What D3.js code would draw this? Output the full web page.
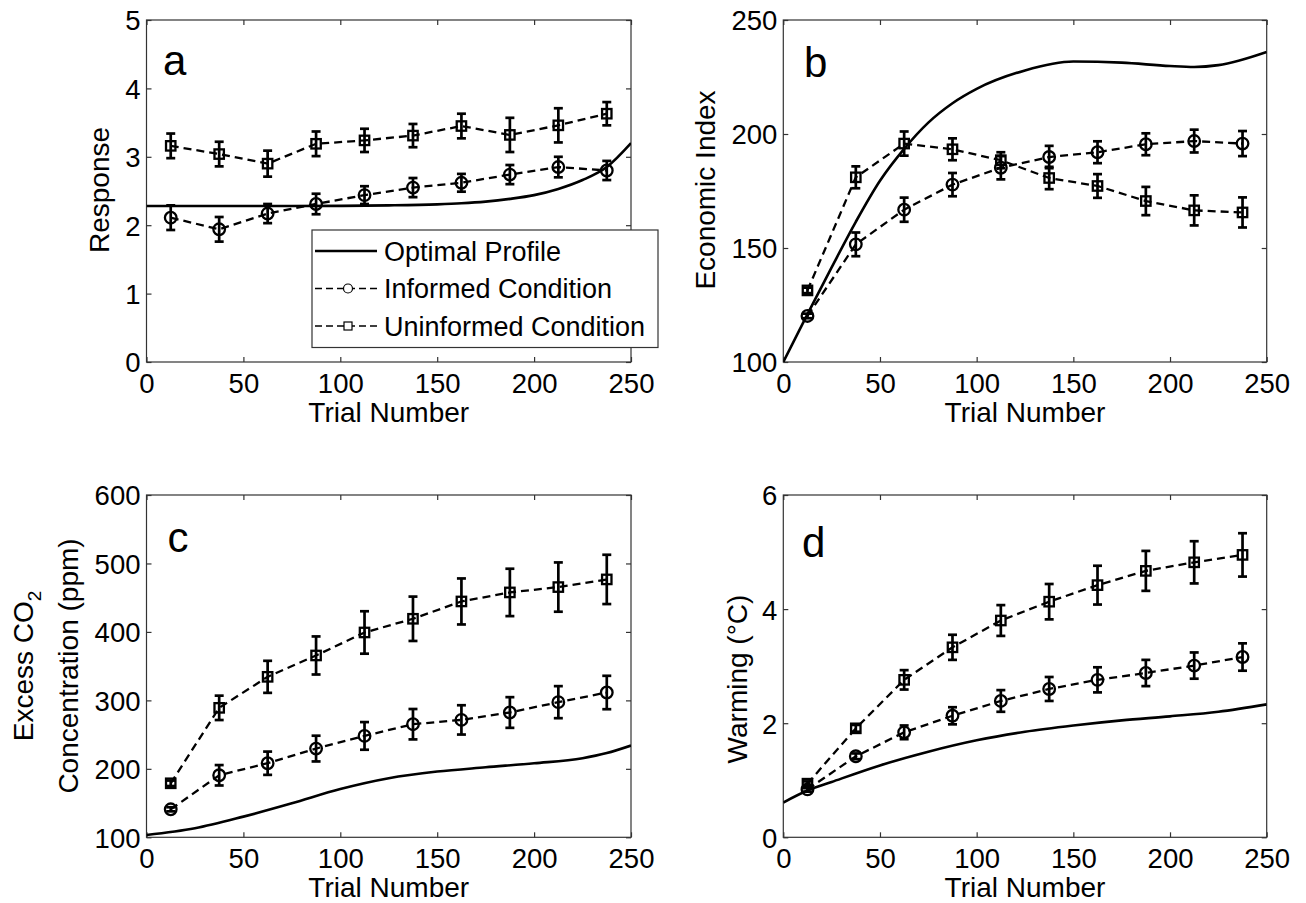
<!DOCTYPE html>
<html>
<head>
<meta charset="utf-8">
<script src="https://cdn.jsdelivr.net/npm/d3@7/dist/d3.min.js"></script>
<style>
  html, body { margin: 0; padding: 0; background: #fff; }
  svg { display: block; font-family: "Liberation Sans", Arial, Helvetica, sans-serif; }
</style>
</head>
<body>
<svg id="chart" width="1306" height="903"></svg>
<script>
// ---------------- DATA ----------------
const trials = [12.5, 37.5, 62.5, 87.5, 112.5, 137.5, 162.5, 187.5, 212.5, 237.5];
const xTicks = [0, 50, 100, 150, 200, 250];

// Panel a: Response
const respInformed = [2.11, 1.94, 2.17, 2.31, 2.44, 2.55, 2.62, 2.74, 2.85, 2.80];
const respInformedErr = [0.18, 0.18, 0.14, 0.15, 0.13, 0.14, 0.13, 0.14, 0.15, 0.14];
const respUninformed = [3.16, 3.04, 2.90, 3.19, 3.24, 3.31, 3.45, 3.32, 3.46, 3.63];
const respUninformedErr = [0.18, 0.18, 0.19, 0.18, 0.17, 0.17, 0.18, 0.25, 0.25, 0.17];
const respOptX = [0, 25, 50, 75, 100, 125, 150, 162.5, 175, 187.5, 200, 212.5, 225, 237.5, 250];
const respOptimal = [2.28, 2.28, 2.28, 2.28, 2.283, 2.29, 2.305, 2.32, 2.345, 2.385, 2.44, 2.53, 2.66, 2.85, 3.20];
const respTicks = [0, 1, 2, 3, 4, 5];

// Panel b: Economic Index
const econInformed = [120.2, 151.6, 166.8, 177.8, 185.2, 189.9, 192.0, 195.5, 196.9, 195.8];
const econInformedErr = [1.0, 5.2, 5.3, 5.1, 5.1, 4.9, 4.8, 4.8, 5.0, 5.5];
const econUninformed = [131.4, 181.0, 195.8, 193.3, 188.5, 180.7, 177.2, 170.6, 166.5, 165.6];
const econUninformedErr = [1.2, 4.8, 5.3, 4.8, 3.5, 4.9, 5.2, 6.2, 6.6, 6.6];
const econOptX = [0, 12.5, 25, 37.5, 50, 62.5, 75, 87.5, 100, 125, 150, 175, 200, 212.5, 225, 250];
const econOptimal = [100, 121, 141.5, 161.5, 179.5, 193.5, 205, 213.5, 219.8, 227.9, 231.8, 231.3, 229.8, 229.4, 230.2, 236.0];
const econTicks = [100, 150, 200, 250];

// Panel c: Excess CO2 concentration (ppm)
const co2Informed = [140.9, 190.6, 208.2, 229.6, 248.1, 265.2, 271.5, 282.3, 297.4, 311.5];
const co2InformedErr = [3, 14.9, 17, 18.8, 20.2, 22.2, 21.4, 22.4, 23.4, 24.4];
const co2Uninformed = [178.9, 289.1, 334.4, 365.6, 399.2, 419.2, 444.5, 457.7, 465.5, 476.7];
const co2UninformedErr = [4, 17.8, 23.4, 27.8, 31, 32.4, 33.6, 34.6, 36, 36];
const co2OptX = [0, 25, 50, 75, 100, 125, 150, 175, 200, 225, 237.5, 250];
const co2Optimal = [103.4, 113.2, 130.2, 149.7, 170.5, 186.3, 196, 202.3, 208.2, 215.5, 223, 234];
const co2Ticks = [100, 200, 300, 400, 500, 600];

// Panel d: Warming (°C)
const warmInformed = [0.84, 1.42, 1.84, 2.13, 2.39, 2.60, 2.76, 2.88, 3.01, 3.16];
const warmInformedErr = [0.04, 0.05, 0.12, 0.15, 0.19, 0.21, 0.22, 0.23, 0.23, 0.24];
const warmUninformed = [0.94, 1.91, 2.76, 3.33, 3.80, 4.13, 4.42, 4.67, 4.82, 4.95];
const warmUninformedErr = [0.04, 0.06, 0.17, 0.22, 0.27, 0.31, 0.34, 0.35, 0.37, 0.38];
const warmOptX = [0, 12.5, 25, 50, 75, 100, 125, 150, 175, 200, 225, 250];
const warmOptimal = [0.61, 0.82, 0.97, 1.26, 1.50, 1.70, 1.85, 1.96, 2.05, 2.12, 2.20, 2.33];
const warmTicks = [0, 2, 4, 6];

const legendLabels = ["Optimal Profile", "Informed Condition", "Uninformed Condition"];

// ---------------- LAYOUT ----------------
const svg = d3.select("#chart");
const FONT_FAMILY = '"Liberation Sans", Arial, Helvetica, sans-serif';
const FONT = 27.5;
const LABEL_FONT = 28;

const panels = [
  { id: "a", box: [146.5, 631, 20, 362], yDomain: [0, 5], yTicks: respTicks,
    inf: respInformed, infErr: respInformedErr, uni: respUninformed, uniErr: respUninformedErr,
    optX: respOptX, opt: respOptimal, letterPos: [163, 75],
    ylabel: { lines: [["Response"]], x: [109], cy: 190 }, legend: true },
  { id: "b", box: [783.3, 1266.7, 20, 362], yDomain: [100, 250], yTicks: econTicks,
    inf: econInformed, infErr: econInformedErr, uni: econUninformed, uniErr: econUninformedErr,
    optX: econOptX, opt: econOptimal, letterPos: [804, 77],
    ylabel: { lines: [["Economic Index"]], x: [715], cy: 190 } },
  { id: "c", box: [146.5, 631, 495, 837.3], yDomain: [100, 600], yTicks: co2Ticks,
    inf: co2Informed, infErr: co2InformedErr, uni: co2Uninformed, uniErr: co2UninformedErr,
    optX: co2OptX, opt: co2Optimal, letterPos: [167.5, 552],
    ylabel: { lines: [["Excess CO", "2"], ["Concentration (ppm)"]], x: [33, 78], cy: 666 } },
  { id: "d", box: [783.3, 1266.7, 495, 837.3], yDomain: [0, 6], yTicks: warmTicks,
    inf: warmInformed, infErr: warmInformedErr, uni: warmUninformed, uniErr: warmUninformedErr,
    optX: warmOptX, opt: warmOptimal, letterPos: [802, 557],
    ylabel: { lines: [["Warming (°C)"]], x: [747], cy: 679 } }
];

const AXIS_COLOR = "#333";
const TICK_LEN = 5;
const fmt = d3.format("d");

panels.forEach(p => {
  const [L, R, T, B] = p.box;
  const x = d3.scaleLinear().domain([0, 250]).range([L, R]);
  const y = d3.scaleLinear().domain(p.yDomain).range([B, T]);
  const g = svg.append("g");

  // Box
  g.append("rect").attr("x", L).attr("y", T).attr("width", R - L).attr("height", B - T)
    .attr("fill", "none").attr("stroke", AXIS_COLOR).attr("stroke-width", 1.2);

  // Axes via d3 (inward ticks)
  const xAxisB = d3.axisBottom(x).tickValues(xTicks).tickFormat(fmt).tickSizeInner(-TICK_LEN).tickSizeOuter(0).tickPadding(12);
  const gxb = g.append("g").attr("transform", `translate(0,${B})`).call(xAxisB);
  const xAxisT = d3.axisTop(x).tickValues(xTicks).tickSizeInner(-TICK_LEN).tickSizeOuter(0).tickFormat("");
  const gxt = g.append("g").attr("transform", `translate(0,${T})`).call(xAxisT);
  const yAxisL = d3.axisLeft(y).tickValues(p.yTicks).tickFormat(fmt).tickSizeInner(-TICK_LEN).tickSizeOuter(0).tickPadding(6);
  const gyl = g.append("g").attr("transform", `translate(${L},0)`).call(yAxisL);
  const yAxisR = d3.axisRight(y).tickValues(p.yTicks).tickSizeInner(-TICK_LEN).tickSizeOuter(0).tickFormat("");
  const gyr = g.append("g").attr("transform", `translate(${R},0)`).call(yAxisR);

  [gxb, gxt, gyl, gyr].forEach(ax => {
    ax.attr("font-size", FONT).attr("font-family", FONT_FAMILY);
    ax.select(".domain").remove();
    ax.selectAll(".tick line").attr("stroke", AXIS_COLOR).attr("stroke-width", 1.2);
    ax.selectAll(".tick text").attr("fill", "#000");
  });
  gxb.selectAll(".tick text").attr("y", 11).attr("dy", "0.71em");
  gyl.selectAll(".tick text").attr("dy", "0.36em");

  // X label
  g.append("text").attr("x", (L + R) / 2).attr("y", B + 59.5).attr("text-anchor", "middle")
    .attr("font-family", FONT_FAMILY).attr("font-size", LABEL_FONT).text("Trial Number");

  // Y label
  p.ylabel.lines.forEach((parts, i) => {
    const t = g.append("text")
      .attr("transform", `translate(${p.ylabel.x[i]},${p.ylabel.cy}) rotate(-90)`)
      .attr("text-anchor", "middle").attr("font-family", FONT_FAMILY).attr("font-size", LABEL_FONT);
    t.append("tspan").text(parts[0]);
    if (parts[1]) {
      t.append("tspan").attr("dy", 8).attr("font-size", 19).text(parts[1]);
    }
  });

  // Panel letter
  g.append("text").attr("x", p.letterPos[0]).attr("y", p.letterPos[1])
    .attr("font-family", FONT_FAMILY).attr("font-size", 42).text(p.id);

  // Clip for optimal curve
  const clipId = "clip-" + p.id;
  svg.append("clipPath").attr("id", clipId).append("rect")
    .attr("x", L).attr("y", T).attr("width", R - L).attr("height", B - T);

  // Optimal profile
  const optLine = d3.line().x(d => x(d[0])).y(d => y(d[1])).curve(d3.curveMonotoneX);
  g.append("path").datum(p.optX.map((v, i) => [v, p.opt[i]]))
    .attr("d", optLine).attr("fill", "none").attr("stroke", "#000").attr("stroke-width", 2.6)
    .attr("clip-path", `url(#${clipId})`);

  // Series
  const series = [
    { vals: p.inf, err: p.infErr, marker: "circle" },
    { vals: p.uni, err: p.uniErr, marker: "square" }
  ];
  const dashLine = d3.line().x(d => x(d[0])).y(d => y(d[1]));
  series.forEach(s => {
    const pts = trials.map((t, i) => [t, s.vals[i], s.err[i]]);
    g.append("path").datum(pts).attr("d", dashLine).attr("fill", "none")
      .attr("stroke", "#000").attr("stroke-width", 2.3).attr("stroke-dasharray", "8,5");
    // Error bars
    const eb = g.append("g").attr("stroke", "#000").attr("stroke-width", 2.7);
    pts.forEach(d => {
      const cx = x(d[0]), y1 = y(d[1] + d[2]), y2 = y(d[1] - d[2]);
      eb.append("line").attr("x1", cx).attr("x2", cx).attr("y1", y1).attr("y2", y2);
      eb.append("line").attr("x1", cx - 4.5).attr("x2", cx + 4.5).attr("y1", y1).attr("y2", y1);
      eb.append("line").attr("x1", cx - 4.5).attr("x2", cx + 4.5).attr("y1", y2).attr("y2", y2);
    });
    // Markers
    const mk = g.append("g").attr("fill", "none").attr("stroke", "#000").attr("stroke-width", 2.3);
    pts.forEach(d => {
      if (s.marker === "circle") {
        mk.append("circle").attr("cx", x(d[0])).attr("cy", y(d[1])).attr("r", 5.8);
      } else {
        mk.append("rect").attr("x", x(d[0]) - 4.7).attr("y", y(d[1]) - 4.7)
          .attr("width", 9.4).attr("height", 9.4);
      }
    });
  });

  // Legend
  if (p.legend) {
    const lg = svg.append("g");
    lg.append("rect").attr("x", 312).attr("y", 230).attr("width", 346).attr("height", 117.5)
      .attr("fill", "#fff").attr("stroke", AXIS_COLOR).attr("stroke-width", 1.2);
    const rowsY = [251, 288.5, 326];
    legendLabels.forEach((lab, i) => {
      const yy = rowsY[i];
      const line = lg.append("line").attr("x1", 315).attr("x2", 377).attr("y1", yy).attr("y2", yy)
        .attr("stroke", "#000");
      if (i === 0) {
        line.attr("stroke-width", 2.6);
      } else {
        line.attr("stroke-width", 1.6).attr("stroke-dasharray", "7,4");
        if (i === 1) {
          lg.append("circle").attr("cx", 348).attr("cy", yy).attr("r", 4.5)
            .attr("fill", "#fff").attr("stroke", "#000").attr("stroke-width", 1.2);
        } else {
          lg.append("rect").attr("x", 344).attr("y", yy - 4).attr("width", 8).attr("height", 8)
            .attr("fill", "#fff").attr("stroke", "#000").attr("stroke-width", 1.2);
        }
      }
      lg.append("text").attr("x", 384).attr("y", yy).attr("dy", "0.36em")
        .attr("font-family", FONT_FAMILY).attr("font-size", 27).text(lab);
    });
  }
});
</script>
</body>
</html>
